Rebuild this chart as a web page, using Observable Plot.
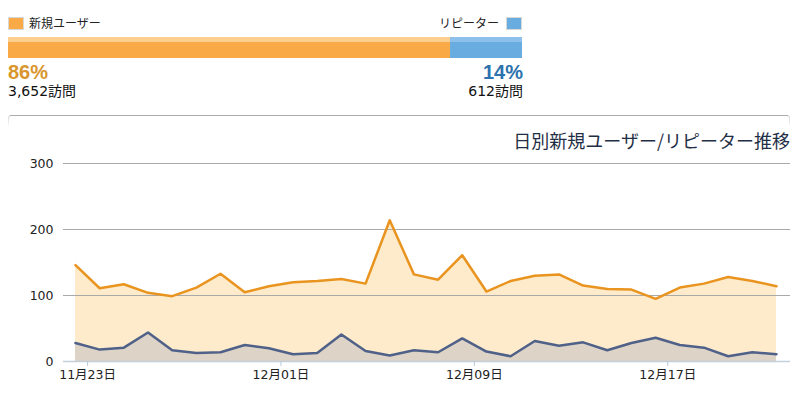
<!DOCTYPE html>
<html>
<head>
<meta charset="utf-8">
<script src="https://cdn.jsdelivr.net/npm/d3@7"></script>
<script src="https://cdn.jsdelivr.net/npm/@observablehq/plot@0.6"></script>
<style>
  html, body { margin: 0; padding: 0; background: #fff; }
  body { width: 795px; height: 406px; position: relative; overflow: hidden;
         font-family: "DejaVu Sans", "Noto Sans CJK JP", sans-serif; color: #222; }
  .abs { position: absolute; white-space: nowrap; }
  .sw { position: absolute; width: 14px; height: 11px; border: 1px solid #d8d8d8; }
  .leg { font-family: "Noto Sans CJK JP", sans-serif; font-size: 12px; line-height: 14px; color: #222; }
  .pct { font-family: "Liberation Sans", Arial, sans-serif; font-weight: bold; font-size: 20px; line-height: 20px; }
  .cnt { font-family: "DejaVu Sans", "Noto Sans CJK JP", sans-serif; font-size: 14px; line-height: 15px; color: #111; }
  .panel { position: absolute; left: 8px; top: 115px; width: 782px; height: 12px;
           border-top: 1px solid #a8a8a8; border-left: 1px solid #d0d0d0; border-right: 1px solid #d0d0d0;
           border-radius: 3px 3px 0 0; box-sizing: border-box;
           -webkit-mask-image: linear-gradient(#000, transparent); mask-image: linear-gradient(#000, transparent); }
  .title { font-family: "Noto Sans CJK JP", sans-serif; font-size: 18px; line-height: 18px; color: #1f2f45; }
</style>
</head>
<body>
<div id="root"></div>
<script>
// ---- data ----
const segmentNames = ["新規ユーザー", "リピーター"];
const segmentVisits = [3652, 612];
const segmentColors = ["#f9aa47", "#69ace0"];
const segmentLight = ["#fccf8f", "#8dc0ea"];
const segmentTextColors = ["#d8962c", "#2b72ae"];

const dates = [
  "2012-11-22T12:00Z","2012-11-23T12:00Z","2012-11-24T12:00Z","2012-11-25T12:00Z","2012-11-26T12:00Z",
  "2012-11-27T12:00Z","2012-11-28T12:00Z","2012-11-29T12:00Z","2012-11-30T12:00Z","2012-12-01T12:00Z",
  "2012-12-02T12:00Z","2012-12-03T12:00Z","2012-12-04T12:00Z","2012-12-05T12:00Z","2012-12-06T12:00Z",
  "2012-12-07T12:00Z","2012-12-08T12:00Z","2012-12-09T12:00Z","2012-12-10T12:00Z","2012-12-11T12:00Z",
  "2012-12-12T12:00Z","2012-12-13T12:00Z","2012-12-14T12:00Z","2012-12-15T12:00Z","2012-12-16T12:00Z",
  "2012-12-17T12:00Z","2012-12-18T12:00Z","2012-12-19T12:00Z","2012-12-20T12:00Z","2012-12-21T12:00Z"
];
const newUsers = [146,111,117,104,99,112,133,105,114,120,122,125,118,214,132,124,161,106,122,130,132,115,110,109,95,112,118,128,122,114];
const repeaters = [28,18,21,44,17,13,14,25,20,11,13,41,16,9,17,14,35,15,8,31,24,29,17,28,36,25,21,8,14,11];

const tickDates = ["2012-11-23T00:00Z","2012-12-01T00:00Z","2012-12-09T00:00Z","2012-12-17T00:00Z"];
const yTicks = [0, 100, 200, 300];
const chartTitle = "日別新規ユーザー/リピーター推移";

// ---- header ----
const root = document.getElementById("root");
const total = d3.sum(segmentVisits);
function el(cls, style, text) {
  const d = document.createElement("div");
  d.className = cls;
  Object.assign(d.style, style);
  if (text != null) d.textContent = text;
  root.appendChild(d);
  return d;
}
el("sw", {left: "8px", top: "17px", background: segmentColors[0]});
el("abs leg", {left: "29px", top: "16px"}, segmentNames[0]);
el("abs leg", {right: (795 - 499) + "px", top: "16px"}, segmentNames[1]);
el("sw", {left: "506px", top: "17px", background: segmentColors[1]});

const pctValues = segmentVisits.map(v => Math.round(v / total * 100));
const barData = segmentNames.map((k, i) => ({k, v: pctValues[i], i}));
const bar = Plot.plot({
  width: 530, height: 21,
  marginLeft: 8, marginRight: 8, marginTop: 0, marginBottom: 0,
  x: {domain: [0, 100], axis: null},
  y: {axis: null},
  marks: [
    Plot.barX(barData, {x: "v", fill: d => segmentColors[d.i], insetLeft: 0, insetRight: 0}),
    Plot.barX(barData, {x: "v", fill: d => segmentLight[d.i], insetBottom: 16, insetLeft: 0, insetRight: 0})
  ]
});
bar.style.position = "absolute";
bar.style.left = "0px";
bar.style.top = "37px";
root.appendChild(bar);

const pcts = pctValues.map(v => v + "%");
el("abs pct", {left: "8px", top: "62px", color: segmentTextColors[0]}, pcts[0]);
el("abs pct", {right: (795 - 523) + "px", top: "62px", color: segmentTextColors[1]}, pcts[1]);
el("abs cnt", {left: "8px", top: "84px"}, d3.format(",")(segmentVisits[0]) + "訪問");
el("abs cnt", {right: (795 - 523) + "px", top: "84px"}, d3.format(",")(segmentVisits[1]) + "訪問");

el("panel", {});
el("abs title", {right: (795 - 790) + "px", top: "131px"}, chartTitle);

// ---- chart ----
const data = dates.map((d, i) => ({date: new Date(d), nu: newUsers[i], rp: repeaters[i]}));
const fmt = d => `${d.getUTCMonth() + 1}月${String(d.getUTCDate()).padStart(2, "0")}日`;

const chart = Plot.plot({
  width: 795, height: 256,
  marginLeft: 75, marginRight: 19, marginTop: 13, marginBottom: 45,
  style: {fontFamily: "'DejaVu Sans', 'Noto Sans CJK JP', sans-serif", fontSize: "12.5px", color: "#222", background: "transparent"},
  x: {type: "utc", domain: [new Date(dates[0]), new Date(dates[dates.length - 1])]},
  y: {domain: [0, 300]},
  marks: [
    Plot.areaY(data, {x: "date", y: "nu", fill: "#fdebcb"}),
    Plot.areaY(data, {x: "date", y: "rp", fill: "#ddd3c6"}),
    Plot.ruleY([100, 200, 300], {stroke: "#a9a9a9", strokeWidth: 1, insetLeft: -12, insetRight: -14}),
    Plot.ruleY([0], {stroke: "#c4d0dc", strokeWidth: 1.5, insetLeft: -12, insetRight: -14}),
    Plot.lineY(data, {x: "date", y: "nu", stroke: "#ea9420", strokeWidth: 2.5}),
    Plot.lineY(data, {x: "date", y: "rp", stroke: "#4f6189", strokeWidth: 2.5}),
    Plot.axisY(yTicks, {tickSize: 0, tickPadding: 22, label: null, fill: "#222"}),
    Plot.axisX(tickDates.map(d => new Date(d)), {tickSize: 5, tickPadding: 4, stroke: "#b9c9d9", fill: "#222", tickFormat: fmt, label: null})
  ]
});
chart.style.position = "absolute";
chart.style.left = "0px";
chart.style.top = "150px";
root.appendChild(chart);
</script>
</body>
</html>
